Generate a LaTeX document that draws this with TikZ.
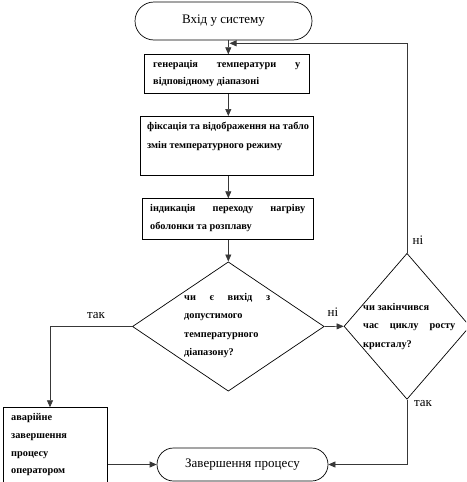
\documentclass[tikz,border=0pt]{standalone}
\usepackage{fontspec}
\setmainfont{Liberation Serif}
\usetikzlibrary{shapes.geometric,shapes.misc,arrows.meta}
\tikzset{
  shp/.style={draw=black, line width=0.7pt},
  box/.style={shp, rectangle, inner sep=0pt, anchor=north west},
  term/.style={shp, rounded rectangle, inner sep=0pt, font=\fontsize{13}{15}\selectfont},
  dia/.style={shp, diamond, inner sep=0pt},
  txt/.style={inner sep=0pt, anchor=base west, font=\fontsize{10.3}{18}\selectfont\bfseries},
  lbl/.style={inner sep=0pt, font=\fontsize{13}{15}\selectfont},
  conn/.style={draw=black!78, line width=0.7pt},
  arr/.style={conn, -{Triangle[length=7pt,width=6pt]}}
}
\begin{document}
\begin{tikzpicture}[x=1pt,y=-1pt]
\clip (0,0) rectangle (466,482);
% terminals
\node[term, minimum width=177pt, minimum height=38pt] (start) at (223.5,21) {Вхід у систему};
\node[term, minimum width=171pt, minimum height=33pt] (end) at (242.5,464.5) {Завершення процесу};
% boxes
\node[box, minimum width=165pt, minimum height=39pt] (b1) at (144.3,54.3) {};
\node[box, minimum width=173pt, minimum height=59pt] (b2) at (140.3,116) {};
\node[box, minimum width=171pt, minimum height=41pt] (b3) at (142.3,198.3) {};
\node[box, minimum width=104.6pt, minimum height=74.4pt] (b4) at (2.7,407.3) {};
% diamonds
\node[dia, minimum width=191.7pt, minimum height=129.3pt] (d1) at (228.3,326.5) {};
\node[dia, minimum width=126pt, minimum height=146pt] (d2) at (407,326.3) {};
% texts
\node[txt] (t1) at (153,67.5) {\parbox[t]{200pt}{\baselineskip=17pt\makebox[147pt][s]{генерація температури у}\\відповідному діапазоні}};
\node[txt] (t2) at (147,129.5) {\parbox[t]{200pt}{\baselineskip=19pt фіксація та відображення на табло\\змін температурного режиму}};
\node[txt] (t3) at (150,211.5) {\parbox[t]{200pt}{\baselineskip=18pt\makebox[155pt][s]{індикація переходу нагріву}\\оболонки та розплаву}};
\node[txt] (t4) at (184,300.5) {\parbox[t]{150pt}{\baselineskip=18.3pt\makebox[86pt][s]{чи є вихід з}\\допустимого\\температурного\\діапазону?}};
\node[txt] (t5) at (363,310) {\parbox[t]{150pt}{\baselineskip=18.7pt чи закінчився\\\makebox[92pt][s]{час циклу росту}\\кристалу?}};
\node[txt] (t6) at (11,420.5) {\parbox[t]{150pt}{\baselineskip=17.8pt аварійне\\завершення\\процесу\\оператором}};
% labels
\node[lbl] (l1) at (96,316) {так};
\node[lbl] (l2) at (333,312) {ні};
\node[lbl] (l3) at (418,240) {ні};
\node[lbl] (l4) at (423,404) {так};
% connectors
\coordinate (ax) at (228.3,0);
\draw[arr] (start.south -| ax) -- (b1.north -| ax);
\draw[arr] (b1.south -| ax) -- (b2.north -| ax);
\draw[arr] (b2.south -| ax) -- (b3.north -| ax);
\draw[arr] (b3.south -| ax) -- (d1.north);
\draw[arr] (d1.east) -- (d2.west);
\coordinate (loop) at (229.5,43.3);
\draw[arr] (d2.north) -- (d2.north |- loop) -- (loop);
\draw[arr] (d2.south) -- (d2.south |- end.east) -- (end.east);
\coordinate (lft) at (50,0);
\draw[arr] (d1.west) -- (d1.west -| lft) -- (b4.north -| lft);
\draw[arr] (b4.east |- end.west) -- (end.west);
\end{tikzpicture}
\end{document}
